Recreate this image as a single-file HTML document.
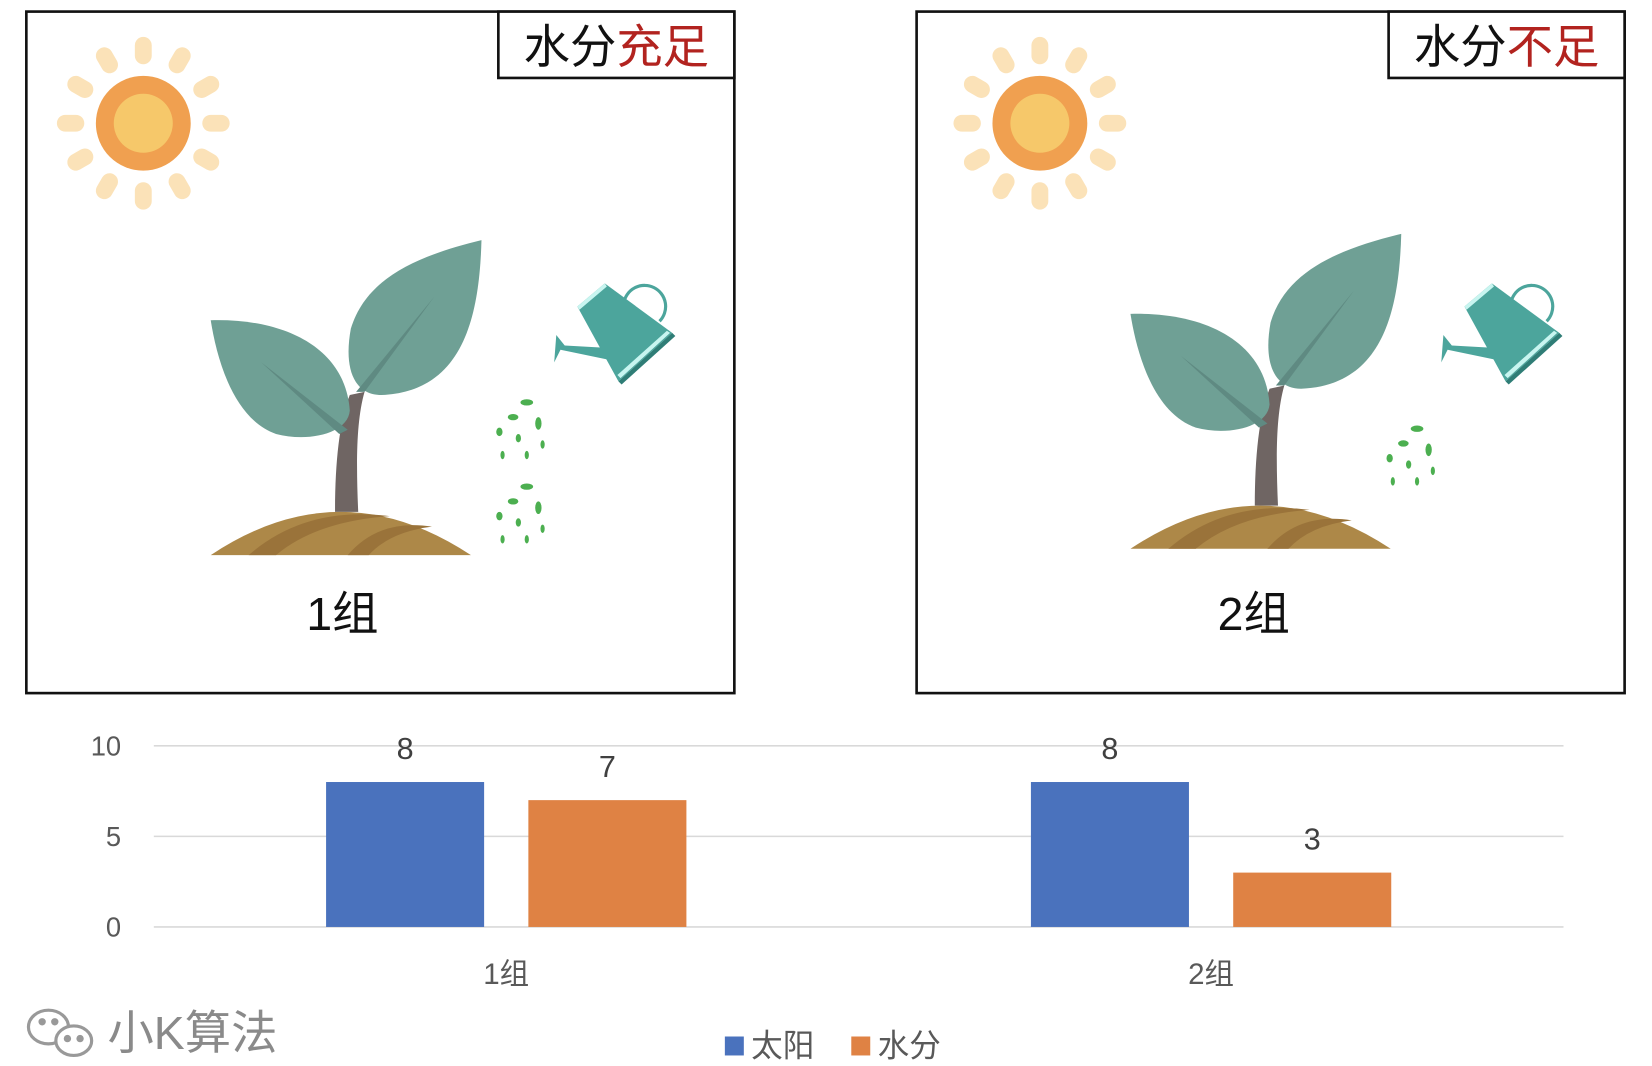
<!DOCTYPE html>
<html><head><meta charset="utf-8"><style>
html,body{margin:0;padding:0;background:#fff;}
svg{display:block;}
text{font-family:"Liberation Sans","Noto Sans CJK SC",sans-serif;}
</style></head><body>
<svg width="1652" height="1066" viewBox="0 0 1568 1012" preserveAspectRatio="none" xmlns="http://www.w3.org/2000/svg">
<defs>
  <g id="sun">
    <circle cx="0" cy="0" r="45" fill="#f0a050"/>
    <circle cx="0" cy="0" r="28" fill="#f6c86a"/>
  </g>
  <g id="plant">
    <path d="M318,486 C318,440 322,400 332,375 L346,372 C338,400 338,440 340,486 Z" fill="#6f6563"/>
    <path d="M200,304 C270,302 328,330 332,390 C330,412 292,420 262,412 C222,398 206,342 200,304 Z" fill="#6fa095"/>
    <path d="M248,344 L330,408 L322,412 Z" fill="#5f8a82"/>
    <path d="M457,228 C455,300 440,372 362,375 C336,375 326,350 333,312 C348,262 400,242 457,228 Z" fill="#6fa095"/>
    <path d="M412,282 L338,372 L346,372 Z" fill="#5f8a82"/>
    <path d="M200,527 Q323,445 447,527 Z" fill="#ad8848"/>
    <path d="M236,527 Q290,480 370,490 Q300,495 262,527 Z" fill="#9a733a"/>
    <path d="M330,527 Q360,492 410,500 Q370,505 350,527 Z" fill="#9a733a"/>
  </g>
  <g id="can">
    <path d="M548,291 L574,269 L638,316 L587,362 Z" fill="#4ca59c"/>
    <path d="M548,291 L574,269 L576,272 L550,294 Z" fill="#c8f5f0"/>
    <path d="M587,362 L638,316 L641,319 L590,365 Z" fill="#2f7d76"/>
    <path d="M586,356 L633,314 L636,316 L589,359 Z" fill="#c8f5f0"/>
    <path d="M592,288 A20,20 0 1 1 626,305" fill="none" stroke="#4ca59c" stroke-width="3"/>
    <path d="M580,342 L532,332 L526,344 L528,318 L536,328 L572,330 Z" fill="#4ca59c"/>
  </g>
  <g id="drops" fill="#4caf50">
    <ellipse cx="500" cy="382" rx="6" ry="3"/>
    <ellipse cx="487" cy="396" rx="5" ry="3"/>
    <ellipse cx="511" cy="402" rx="3" ry="6"/>
    <ellipse cx="474" cy="410" rx="3" ry="4"/>
    <ellipse cx="492" cy="416" rx="2.5" ry="4"/>
    <ellipse cx="515" cy="422" rx="2" ry="4"/>
    <ellipse cx="477" cy="432" rx="2" ry="4"/>
    <ellipse cx="500" cy="432" rx="2" ry="4"/>
  </g>
</defs>

<g>
  <rect x="25" y="11" width="672" height="647" fill="none" stroke="#111" stroke-width="2.5"/>
  <rect x="473" y="11" width="224" height="63" fill="#fff" stroke="#111" stroke-width="2.5"/>
  <text x="585" y="60" font-size="44" text-anchor="middle"><tspan fill="#111">水分</tspan><tspan fill="#b2231f">充足</tspan></text>
  <g transform="translate(136,117)">
    <g id="rays" fill="#fbe2b8">
      <rect x="-8" y="-82" width="16" height="26" rx="8"/>
      <rect x="-8" y="-82" width="16" height="26" rx="8" transform="rotate(30)"/>
      <rect x="-8" y="-82" width="16" height="26" rx="8" transform="rotate(60)"/>
      <rect x="-8" y="-82" width="16" height="26" rx="8" transform="rotate(90)"/>
      <rect x="-8" y="-82" width="16" height="26" rx="8" transform="rotate(120)"/>
      <rect x="-8" y="-82" width="16" height="26" rx="8" transform="rotate(150)"/>
      <rect x="-8" y="-82" width="16" height="26" rx="8" transform="rotate(180)"/>
      <rect x="-8" y="-82" width="16" height="26" rx="8" transform="rotate(210)"/>
      <rect x="-8" y="-82" width="16" height="26" rx="8" transform="rotate(240)"/>
      <rect x="-8" y="-82" width="16" height="26" rx="8" transform="rotate(270)"/>
      <rect x="-8" y="-82" width="16" height="26" rx="8" transform="rotate(300)"/>
      <rect x="-8" y="-82" width="16" height="26" rx="8" transform="rotate(330)"/>
    </g>
    <use href="#sun"/>
  </g>
  <use href="#plant"/>
  <use href="#can"/>
  <use href="#drops"/>
  <use href="#drops" transform="translate(0,80)"/>
  <text x="325" y="598" font-size="44" text-anchor="middle" fill="#111">1组</text>
</g>

<g>
  <rect x="870" y="11" width="672" height="647" fill="none" stroke="#111" stroke-width="2.5"/>
  <rect x="1318" y="11" width="224" height="63" fill="#fff" stroke="#111" stroke-width="2.5"/>
  <text x="1430" y="60" font-size="44" text-anchor="middle"><tspan fill="#111">水分</tspan><tspan fill="#b2231f">不足</tspan></text>
  <g transform="translate(987,117)">
    <use href="#rays"/>
    <use href="#sun"/>
  </g>
  <use href="#plant" transform="translate(873,-6)"/>
  <use href="#can" transform="translate(842,0)"/>
  <use href="#drops" transform="translate(845,25)"/>
  <text x="1190" y="598" font-size="44" text-anchor="middle" fill="#111">2组</text>
</g>

<g id="chart"></g>

<g fill="none" stroke="#999" stroke-width="3">
  <ellipse cx="46" cy="975" rx="19" ry="16"/>
  <ellipse cx="70" cy="988" rx="17" ry="14" fill="#fff"/>
  <circle cx="40" cy="970" r="2" fill="#999"/>
  <circle cx="52" cy="970" r="2" fill="#999"/>
  <circle cx="64" cy="986" r="2" fill="#999"/>
  <circle cx="76" cy="986" r="2" fill="#999"/>
</g>
<text x="102" y="996" font-size="44" fill="#8a8a8a">小K算法</text>
</svg>
<script>
const categories = ["1组", "2组"];
const seriesNames = ["太阳", "水分"];
const sunValues = [8, 8];
const waterValues = [7, 3];
const yTicks = [0, 5, 10];

const NS = "http://www.w3.org/2000/svg";
const chart = document.getElementById("chart");
const plotLeft = 146, plotRight = 1484, y0 = 880, y10 = 708;
const yMax = 10;
function yScale(v) { return y0 - (v / yMax) * (y0 - y10); }
const catW = (plotRight - plotLeft) / categories.length;
function xCenter(i) { return plotLeft + catW * (i + 0.5); }
const barW = 150, barGap = 42;
const colors = ["#4a72bd", "#df8244"];
const series = [sunValues, waterValues];

function mk(tag, attrs, text) {
  const el = document.createElementNS(NS, tag);
  for (const k in attrs) el.setAttribute(k, attrs[k]);
  if (text !== undefined) el.textContent = text;
  chart.appendChild(el);
  return el;
}

yTicks.forEach(function (t) {
  const y = yScale(t);
  const g = mk("line", { x1: plotLeft, x2: plotRight, y1: y, y2: y, stroke: "#d9d9d9", "stroke-width": 1.5 });
  
  
  const lb = mk("text", { x: 115, y: y + 9, "font-size": 26, fill: "#595959", "text-anchor": "end" }, String(t));
  
  
});

categories.forEach(function (c, i) {
  const cx = xCenter(i);
  series.forEach(function (vals, s) {
    const x = s === 0 ? cx - barGap / 2 - barW : cx + barGap / 2;
    const v = vals[i];
    const r = mk("rect", { x: x, y: yScale(v), width: barW, height: yScale(0) - yScale(v), fill: colors[s] });
    
    
    const t = mk("text", { x: x + barW / 2, y: yScale(v) - 22, "font-size": 29, fill: "#404040", "text-anchor": "middle" }, String(v));
    
    
  });
  const cl = mk("text", { x: cx, y: 934, "font-size": 28, fill: "#595959", "text-anchor": "middle" }, c);
  
  
});

const legendX = [688, 808];
seriesNames.forEach(function (n, s) {
  const r = mk("rect", { x: legendX[s], y: 984, width: 18, height: 18, fill: colors[s] });
  
  
  const t = mk("text", { x: legendX[s] + 25, y: 1003, "font-size": 30, fill: "#595959" }, n);
  
  
});
</script>
</body></html>
